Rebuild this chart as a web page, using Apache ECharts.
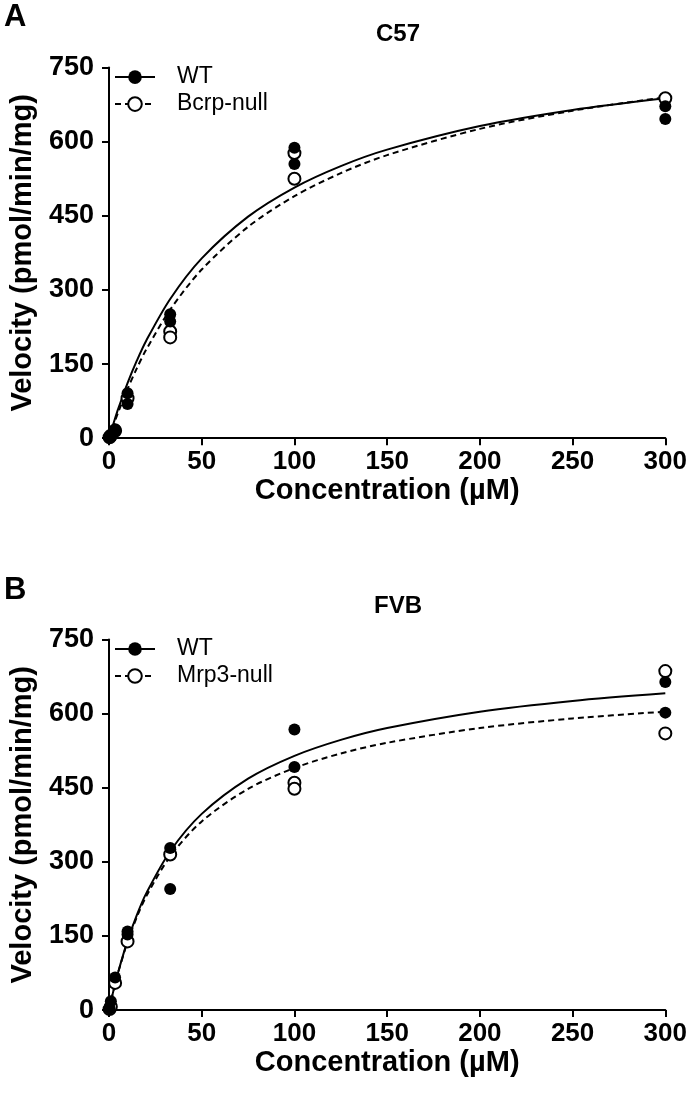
<!DOCTYPE html>
<html>
<head>
<meta charset="utf-8">
<script src="https://cdn.jsdelivr.net/npm/echarts@6/dist/echarts.min.js"></script>
<style>
html,body{margin:0;padding:0;background:#fff;}
#chart{width:690px;height:1105px;}
</style>
</head>
<body>
<div id="chart"></div>
<script>
// ---- Data ----
const xTicks = [0, 50, 100, 150, 200, 250, 300];
const yTicks = [0, 150, 300, 450, 600, 750];

// Panel A (C57): measured points [concentration, velocity]
const aWTPoints = [[0.33, 2], [1, 6], [3.3, 18], [3.3, 14], [10, 91], [10, 69], [33, 251], [33, 236], [100, 588], [100, 555], [300, 672], [300, 646]];
const aNullPoints = [[0.33, 2], [1, 5], [3.3, 15], [10, 81], [33, 216], [33, 204], [100, 577], [100, 525], [300, 688]];
// Panel A fitted curves, read at these concentrations
const curveX = [0, 1, 3, 5, 10, 15, 20, 33, 50, 75, 100, 125, 150, 200, 250, 300];
const aWTCurve = [0, 12.7, 36.9, 59.8, 111.6, 156.9, 196.9, 281.8, 363.9, 448.4, 507.3, 550.7, 584.0, 631.7, 664.3, 688.0];
const aNullCurve = [0, 11.1, 32.5, 52.9, 99.7, 141.4, 178.8, 260.1, 341.3, 427.8, 489.8, 536.5, 572.9, 626.0, 662.8, 689.9];

// Panel B (FVB)
const bWTPoints = [[0.33, 3], [1, 18], [3.3, 66], [10, 159], [10, 153], [33, 328], [33, 245], [100, 568], [100, 492], [300, 664], [300, 602]];
const bNullPoints = [[0.33, 2], [1, 7], [3.3, 55], [10, 139], [33, 315], [100, 460], [100, 448], [300, 686], [300, 560]];
const bWTCurve = [0, 17.0, 48.7, 77.7, 140.5, 192.3, 235.7, 321.5, 397.1, 468.4, 514.6, 546.9, 570.9, 603.9, 625.6, 641.0];
const bNullCurve = [0, 16.9, 48.2, 76.8, 138.1, 188.1, 229.7, 311.1, 381.8, 447.7, 490.0, 519.4, 541.0, 570.8, 590.2, 604.0];

const panels = [
  {letter: 'A', title: 'C57', nullName: 'Bcrp-null', wtPts: aWTPoints, nullPts: aNullPoints, wtCurve: aWTCurve, nullCurve: aNullCurve},
  {letter: 'B', title: 'FVB', nullName: 'Mrp3-null', wtPts: bWTPoints, nullPts: bNullPoints, wtCurve: bWTCurve, nullCurve: bNullCurve}
];

// ---- Layout ----
const FONT = "'Liberation Sans', Arial, Helvetica, sans-serif";
const gridTops = [67.6, 639.5];
const gridH = 370.6;
const letterTops = [2, 575];
const titleTops = [22, 594];

const zip = (xs, ys) => xs.map((x, i) => [x, ys[i]]);

const option = {
  animation: false,
  backgroundColor: '#fff',
  title: [],
  legend: [],
  grid: [],
  xAxis: [],
  yAxis: [],
  series: []
};

panels.forEach((p, i) => {
  option.title.push({
    text: p.letter, left: 4, top: letterTops[i], padding: 0,
    textStyle: {fontFamily: FONT, fontWeight: 'bold', fontSize: 31, color: '#000'}
  });
  option.title.push({
    text: p.title, left: 398, top: titleTops[i], padding: 0, textAlign: 'center',
    textStyle: {fontFamily: FONT, fontWeight: 'bold', fontSize: 24, color: '#000'}
  });
  option.legend.push({
    orient: 'vertical',
    left: 114, top: gridTops[i] - 2,
    padding: 0,
    itemWidth: 40, itemHeight: 17, itemGap: 4,
    selectedMode: false,
    data: ['WT', p.nullName],
    textStyle: {fontFamily: FONT, fontSize: 23, color: '#000', padding: [0, 0, 0, 17], lineHeight: 21}
  });
  option.grid.push({left: 105, right: 23, top: gridTops[i], height: gridH, containLabel: false});
  option.xAxis.push({
    gridIndex: i, type: 'value', min: 0, max: 300, interval: 50,
    name: 'Concentration (µM)', nameLocation: 'middle', nameGap: 35,
    nameTextStyle: {fontFamily: FONT, fontWeight: 'bold', fontSize: 29, color: '#000'},
    axisLine: {show: true, onZero: false, lineStyle: {color: '#000', width: 2}},
    axisTick: {show: true, length: 7, inside: false, lineStyle: {color: '#000', width: 2}},
    axisLabel: {fontFamily: FONT, fontWeight: 'bold', fontSize: 26, color: '#000', margin: 11,
      formatter: v => xTicks.includes(v) ? String(v) : ''},
    splitLine: {show: false}
  });
  option.yAxis.push({
    gridIndex: i, type: 'value', min: 0, max: 750, interval: 150,
    name: 'Velocity (pmol/min/mg)', nameLocation: 'middle', nameGap: 72, nameRotate: 90,
    nameTextStyle: {fontFamily: FONT, fontWeight: 'bold', fontSize: 29, color: '#000'},
    axisLine: {show: true, onZero: false, lineStyle: {color: '#000', width: 2}},
    axisTick: {show: true, length: 7, inside: false, lineStyle: {color: '#000', width: 2}},
    axisLabel: {fontFamily: FONT, fontWeight: 'bold', fontSize: 27, color: '#000', margin: 15,
      formatter: v => yTicks.includes(v) ? String(v) : ''},
    splitLine: {show: false}
  });
  // fitted curves (also used for legend icons)
  option.series.push({
    name: 'WT', type: 'line', xAxisIndex: i, yAxisIndex: i,
    data: zip(curveX, p.wtCurve), smooth: 0.3,
    symbol: 'circle', symbolSize: 12, showSymbol: false,
    itemStyle: {color: '#000'},
    lineStyle: {color: '#000', width: 2},
    z: 2, silent: true
  });
  option.series.push({
    name: p.nullName, type: 'line', xAxisIndex: i, yAxisIndex: i,
    data: zip(curveX, p.nullCurve), smooth: 0.3,
    symbol: 'circle', symbolSize: 12, showSymbol: false,
    itemStyle: {color: '#fff', borderColor: '#000', borderWidth: 2},
    lineStyle: {color: '#000', width: 2, type: [6, 4]},
    z: 2, silent: true
  });
  // measured points
  option.series.push({
    name: p.nullName, type: 'scatter', xAxisIndex: i, yAxisIndex: i,
    data: p.nullPts, symbol: 'circle', symbolSize: 12,
    itemStyle: {color: '#fff', borderColor: '#000', borderWidth: 2, opacity: 1},
    z: 3
  });
  option.series.push({
    name: 'WT', type: 'scatter', xAxisIndex: i, yAxisIndex: i,
    data: p.wtPts, symbol: 'circle', symbolSize: 12,
    itemStyle: {color: '#000', opacity: 1},
    z: 4
  });
});

const chart = echarts.init(document.getElementById('chart'), null, {renderer: 'canvas'});
chart.setOption(option);
</script>
</body>
</html>
